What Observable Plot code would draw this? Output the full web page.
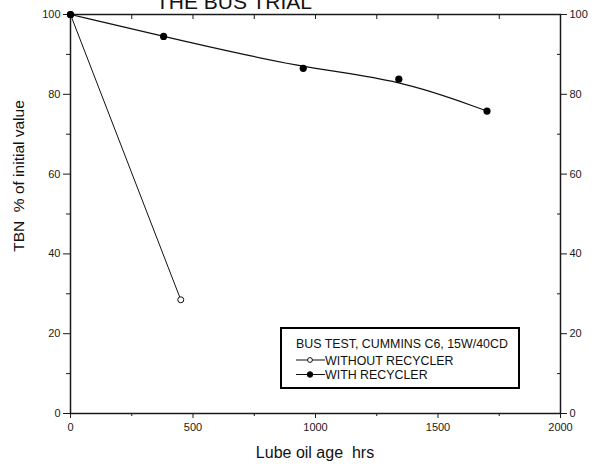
<!DOCTYPE html>
<html>
<head>
<meta charset="utf-8">
<script src="https://cdn.jsdelivr.net/npm/d3@7"></script>
<script src="https://cdn.jsdelivr.net/npm/@observablehq/plot@0.6"></script>
<style>
  html, body { margin: 0; padding: 0; background: #fff; }
  #chart { position: relative; width: 592px; height: 466px; }
  svg { font-family: "Liberation Sans", Arial, sans-serif; }
</style>
</head>
<body>
<div id="chart"></div>
<script>
// TBN retention over oil age, bus trial
const withoutHours = [0, 450];
const withoutTBN = [100, 28.5];
const withHours = [0, 380, 950, 1340, 1700];
const withTBN = [100, 94.5, 86.5, 83.8, 75.8];

const xMajor = [0, 500, 1000, 1500, 2000];
const xMinor = [250, 750, 1250, 1750];
const yMajor = [0, 20, 40, 60, 80, 100];
const yMinor = [10, 30, 50, 70, 90];

const titleText = "THE BUS TRIAL";
const xLabel = "Lube oil age\u00a0 hrs";
const yLabel = "TBN\u00a0 % of initial value";
const legendTitle = "BUS TEST, CUMMINS C6, 15W/40CD";
const legendNames = ["WITHOUT RECYCLER", "WITH RECYCLER"];

const without = withoutHours.map((h, i) => ({hours: h, tbn: withoutTBN[i]}));
const withRec = withHours.map((h, i) => ({hours: h, tbn: withTBN[i]}));

const axisColor = "#1a1a1a";

const plot = Plot.plot({
  width: 592,
  height: 466,
  marginLeft: 70,
  marginRight: 32,
  marginTop: 14,
  marginBottom: 53,
  style: {fontFamily: "Liberation Sans, Arial, sans-serif", fontSize: "11px", color: axisColor, background: "#fff"},
  x: {domain: [0, 2000]},
  y: {domain: [0, 100]},
  marks: [
    Plot.axisX({ticks: xMajor, tickSize: 5, tickPadding: 5, tickFormat: "d", label: null, fontSize: 11}),
    Plot.axisX({ticks: xMinor, tickSize: 3, tickFormat: () => "", label: null}),
    Plot.axisX({anchor: "top", ticks: [...xMajor, ...xMinor], tickSize: -4, tickFormat: () => "", label: null}),
    Plot.axisY({ticks: yMajor, tickSize: 7, tickPadding: 3, label: null, fontSize: 11}),
    Plot.axisY({ticks: yMinor, tickSize: 4, tickFormat: () => "", label: null}),
    Plot.axisY({anchor: "right", ticks: yMajor, tickSize: 6, tickPadding: 3, label: null, fontSize: 11}),
    Plot.axisY({anchor: "right", ticks: yMinor, tickSize: -4, tickFormat: () => "", label: null}),
    Plot.frame({stroke: axisColor, strokeWidth: 1.5}),
    Plot.line(without, {x: "hours", y: "tbn", stroke: "#111", strokeWidth: 1}),
    Plot.line(withRec, {x: "hours", y: "tbn", stroke: "#111", strokeWidth: 1.2, curve: "basis"}),
    Plot.dot(without.slice(1), {x: "hours", y: "tbn", r: 3, stroke: "#111", fill: "#fff", strokeWidth: 1}),
    Plot.dot(withRec, {x: "hours", y: "tbn", r: 3.6, fill: "#000", stroke: "none"}),
    Plot.dot(without.slice(0, 1), {x: "hours", y: "tbn", r: 3.6, fill: "#000", stroke: "none"})
  ]
});

document.getElementById("chart").appendChild(plot);

const svg = d3.select(plot);
const font = "Liberation Sans, Arial, sans-serif";

// title, running off the top edge
svg.append("text")
  .attr("x", 234).attr("y", 9)
  .attr("text-anchor", "middle")
  .attr("font-family", font).attr("font-size", 21).attr("fill", "#111")
  .text(titleText);

// axis titles
svg.append("text")
  .attr("x", 315).attr("y", 458)
  .attr("text-anchor", "middle")
  .attr("font-family", font).attr("font-size", 16).attr("fill", "#111")
  .text(xLabel);

svg.append("text")
  .attr("transform", "translate(24,176) rotate(-90)")
  .attr("text-anchor", "middle")
  .attr("font-family", font).attr("font-size", 15.5).attr("fill", "#111")
  .text(yLabel);

// legend box
const lg = svg.append("g")
  .attr("font-family", font).attr("font-size", 12.4).attr("fill", "#111")
  .attr("text-anchor", "start");
lg.append("rect")
  .attr("x", 281).attr("y", 328).attr("width", 238).attr("height", 60)
  .attr("fill", "#fff").attr("stroke", "#000").attr("stroke-width", 2);
lg.append("text").attr("x", 296).attr("y", 348).text(legendTitle);

legendNames.forEach((name, i) => {
  const cy = 360 + i * 14.5;
  lg.append("line").attr("x1", 296).attr("x2", 325).attr("y1", cy).attr("y2", cy)
    .attr("stroke", "#111").attr("stroke-width", 1);
  lg.append("circle").attr("cx", 310).attr("cy", cy).attr("r", i === 0 ? 2.4 : 2.8)
    .attr("fill", i === 0 ? "#fff" : "#000").attr("stroke", "#111").attr("stroke-width", 1);
  lg.append("text").attr("x", 325).attr("y", cy + 4.5).text(name);
});
</script>
</body>
</html>
